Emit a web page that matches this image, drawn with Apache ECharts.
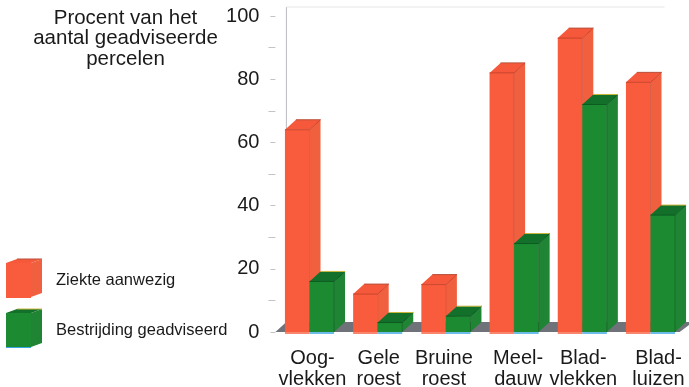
<!DOCTYPE html>
<html><head><meta charset="utf-8">
<style>html,body{margin:0;padding:0;background:#fff}#c{width:689px;height:387px}</style>
<script src="https://cdn.jsdelivr.net/npm/echarts@6/dist/echarts.min.js"></script>
</head><body><div id="c"></div>
<script>
const categories = ['Oog-\nvlekken','Gele\nroest','Bruine\nroest','Meel-\ndauw','Blad-\nvlekken','Blad-\nluizen'];
const ziekte = [64,12,15,82,93,79];
const bestrijding = [16,3,5,28,72,37];
const yTicks = [0,20,40,60,80,100];
const titleText = 'Procent van het\naantal geadviseerde\npercelen';
const labelNudge = [3,1,-2,4,1,8];
const FONT = '"Liberation Sans", Arial, sans-serif';
const DX = 11, DY = 10;
const red = {front:'#f85c3c', top:'#f5583a', side:'#f0603f', edge:'#c9452e', backEdge:'#b8503a', base:'#f85c3c'};
const green = {front:'#1c8a30', top:'#13702a', side:'#1f8434', edge:'#0c5a20', backEdge:'#c9b63a', base:'#3aa6e0'};

function bar(pal, dir){
  return function(params, api){
    const base = api.coord([api.value(0), 0]);
    const head = api.coord([api.value(0), api.value(1)]);
    const w = api.size([1,0])[0] * 0.36;
    const x0 = dir < 0 ? base[0] - w : base[0];
    const x1 = x0 + w, y0 = head[1], y1 = base[1];
    const poly = (pts, fill) => ({type:'polygon', shape:{points:pts}, style:{fill:fill}, silent:true});
    const line = (a, b, c, lw) => ({type:'line', shape:{x1:a[0],y1:a[1],x2:b[0],y2:b[1]}, style:{stroke:c, lineWidth:lw||1}, silent:true});
    return {type:'group', children:[
      poly([[x1,y0],[x1+DX,y0-DY],[x1+DX,y1-DY],[x1,y1]], pal.side),
      poly([[x0,y0],[x0+DX,y0-DY],[x1+DX,y0-DY],[x1,y0]], pal.top),
      {type:'rect', shape:{x:x0,y:y0,width:w,height:y1-y0}, style:{fill:pal.front}, silent:true},
      line([x0,y0],[x1,y0],pal.edge),
      line([x1,y0],[x1+DX,y0-DY],pal.edge),
      line([x0+DX,y0-DY],[x1+DX,y0-DY],pal.backEdge),
      line([x1,y0],[x1,y1],pal.edge,0.6),
      line([x0,y1+1],[x1,y1+1],pal.base,1.5)
    ]};
  };
}
function backdrop(params, api){
  const cs = params.coordSys;
  const y0 = cs.y + cs.height, L = cs.x, R = cs.x + cs.width;
  return {type:'group', silent:true, children:[
    {type:'polygon', shape:{points:[[L,y0],[L+DX,y0-DY],[689,y0-DY],[689,y0-DY+3],[R-5,y0]]}, style:{fill:'#70727a'}},
    {type:'line', shape:{x1:L+DX,y1:y0-DY,x2:L+DX,y2:cs.y-9}, style:{stroke:'#b9b9c0',lineWidth:1}},
    {type:'line', shape:{x1:L+DX,y1:cs.y-9,x2:R-20,y2:cs.y-9}, style:{stroke:'#e6e6e6',lineWidth:1}}
  ]};
}
const cube = (x, y, c) => [
  {type:'polygon', silent:true, shape:{points:[[x,y],[x+11,y-4],[x+36,y-4],[x+25,y]]}, style:{fill:c.top}},
  {type:'polygon', silent:true, shape:{points:[[x+25,y],[x+36,y-4],[x+36,y+30],[x+25,y+34]]}, style:{fill:c.side}},
  {type:'line', silent:true, shape:{x1:x+11,y1:y-4,x2:x+36,y2:y-4}, style:{stroke:c.backEdge,lineWidth:1}},
  {type:'line', silent:true, shape:{x1:x,y1:y+34.5,x2:x+25,y2:y+34.5}, style:{stroke:c.base,lineWidth:1}}
];
const richLabels = {};
labelNudge.forEach((n,i)=>{ richLabels['c'+i] = {fontFamily:FONT,fontSize:20,lineHeight:21,color:'#1a1a1a',
  padding: n>=0 ? [0,0,0,2*n] : [0,-2*n,0,0]}; });
const chart = echarts.init(document.getElementById('c'), null, {renderer:'canvas'});
chart.setOption({
  animation:false,
  backgroundColor:'#fff',
  textStyle:{fontFamily:FONT},
  title:{text:titleText, left:120.5, top:3, textAlign:'center',
    textStyle:{fontFamily:FONT,fontSize:20.5,fontWeight:'normal',color:'#1a1a1a',lineHeight:20.5}},
  legend:{orient:'vertical', left:1, top:258, itemWidth:25, itemHeight:34, itemGap:16, selectedMode:false,
    icon:'rect', data:['Ziekte aanwezig','Bestrijding geadviseerd'],
    textStyle:{fontFamily:FONT,fontSize:16.5,color:'#1a1a1a',padding:[0,0,0,20]}},
  graphic:{elements:[...cube(6,263,red),...cube(6,313,green)]},
  grid:{left:275.4,right:4.4,top:16,bottom:55,outerBoundsMode:'none'},
  xAxis:{type:'category',data:categories,
    axisLine:{show:false},axisTick:{show:false},
    axisLabel:{interval:0,margin:16,hideOverlap:false,fontFamily:FONT,fontSize:20,lineHeight:21,color:'#1a1a1a',rich:richLabels,
      formatter:(v,i)=>v.split('\n').map(s=>'{c'+i+'|'+s+'}').join('\n')}},
  yAxis:{type:'value',min:0,max:100,interval:20,
    axisLine:{show:false},splitLine:{show:false},
    axisTick:{show:true,length:5,lineStyle:{color:'#c4c4c4'}},
    minorTick:{show:true,splitNumber:2,length:7,lineStyle:{color:'#c4c4c4'}},
    axisLabel:{margin:16,fontFamily:FONT,fontSize:20,color:'#1a1a1a',padding:[4,0,0,0],
      formatter:v=>yTicks.includes(v)?String(v):''}},
  series:[
    {type:'custom',name:'backdrop',renderItem:backdrop,data:[[0,0]],silent:true,encode:{x:0,y:1},z:1},
    {type:'custom',name:'Ziekte aanwezig',renderItem:bar(red,-1),itemStyle:{color:red.front},
      data:ziekte.map((v,i)=>[i,v]),encode:{x:0,y:1},z:2},
    {type:'custom',name:'Bestrijding geadviseerd',renderItem:bar(green,1),itemStyle:{color:green.front},
      data:bestrijding.map((v,i)=>[i,v]),encode:{x:0,y:1},z:3}
  ]
});
</script></body></html>
